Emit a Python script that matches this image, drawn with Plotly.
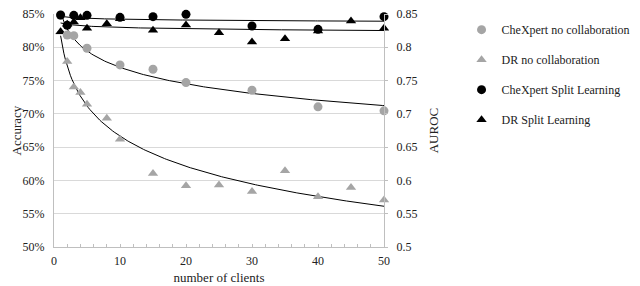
import numpy as np
import plotly.graph_objects as go

# Data
chex_nc_x = [1, 2, 3, 5, 10, 15, 20, 30, 40, 50]
chex_nc_y = [0.848, 0.8185, 0.8175, 0.7985, 0.7735, 0.767, 0.747, 0.7355, 0.7105, 0.7045]

dr_nc_x = [1, 2, 3, 4, 5, 8, 10, 15, 20, 25, 30, 35, 40, 45, 50]
dr_nc_y = [82.3, 77.85, 74.05, 73.2, 71.45, 69.35, 66.2, 61.05, 59.2, 59.3, 58.35, 61.45, 57.55, 58.95, 57.05]

chex_sl_x = [1, 2, 3, 5, 10, 15, 20, 30, 40, 50]
chex_sl_y = [0.8485, 0.833, 0.848, 0.848, 0.845, 0.846, 0.8495, 0.832, 0.827, 0.846]

dr_sl_x = [1, 2, 3, 4, 5, 8, 10, 15, 20, 25, 30, 35, 40, 45, 50]
dr_sl_y = [82.35, 83.45, 83.8, 84.45, 82.85, 83.55, 84.3, 82.55, 83.35, 82.2, 80.8, 81.3, 82.45, 83.95, 82.85]

x_ticks = [0, 10, 20, 30, 40, 50]
left_ticks = [50, 55, 60, 65, 70, 75, 80, 85]
right_ticks = [0.5, 0.55, 0.6, 0.65, 0.7, 0.75, 0.8, 0.85]

GRAY = "#a5a5a5"
FONT = "'Liberation Serif', 'Times New Roman', serif"


def log_fit(xs, ys):
    xs = np.asarray(xs, float)
    b, a = np.polyfit(np.log(xs), np.asarray(ys, float), 1)
    xf = np.linspace(1, 50, 200)
    return xf, a + b * np.log(xf)


fig = go.Figure()

# trend lines
for xs, ys, ax in [(chex_nc_x, chex_nc_y, "y2"), (dr_nc_x, dr_nc_y, "y"),
                   (chex_sl_x, chex_sl_y, "y2"), (dr_sl_x, dr_sl_y, "y")]:
    xf, yf = log_fit(xs, ys)
    fig.add_trace(go.Scatter(x=xf, y=yf, mode="lines", yaxis=ax,
                             line=dict(color="black", width=1),
                             showlegend=False, hoverinfo="skip"))

series = [
    ("CheXpert no collaboration", chex_nc_x, chex_nc_y, "y2", "circle", GRAY),
    ("DR no collaboration", dr_nc_x, dr_nc_y, "y", "triangle-up", GRAY),
    ("CheXpert Split Learning", chex_sl_x, chex_sl_y, "y2", "circle", "black"),
    ("DR Split Learning", dr_sl_x, dr_sl_y, "y", "triangle-up", "black"),
]
for i, (name, xs, ys, ax, sym, col) in enumerate(series):
    fig.add_trace(go.Scatter(x=xs, y=ys, mode="markers", name=name, yaxis=ax,
                             legendgroup=f"g{i}", cliponaxis=False,
                             marker=dict(symbol=sym, color=col, size=9,
                                         line=dict(width=0))))

fig.add_annotation(text="Accuracy", xref="paper", yref="paper",
                   x=-38 / 330, y=0.5, xanchor="center", yanchor="middle",
                   textangle=-90, showarrow=False,
                   font=dict(family=FONT, size=13, color="#222"))

fig.update_layout(
    width=632, height=278,
    margin=dict(l=46, r=256, t=6, b=39, autoexpand=False),
    paper_bgcolor="white", plot_bgcolor="white",
    font=dict(family=FONT, size=12, color="#222"),
    showlegend=True,
    legend=dict(x=1.235, y=0.995, xanchor="left", yanchor="top",
                font=dict(family=FONT, size=12, color="#222"),
                tracegroupgap=11, bgcolor="rgba(0,0,0,0)"),
    xaxis=dict(range=[0, 50], tickvals=x_ticks, showgrid=False, zeroline=False,
               automargin=False, ticklabelstandoff=3, ticklabeloverflow="allow",
               showline=True, linecolor="#bfbfbf", linewidth=1,
               ticks="inside", ticklen=3, tickcolor="#bfbfbf",
               minor=dict(dtick=2, ticks="inside", ticklen=3, tickcolor="#bfbfbf"),
               title=dict(text="number of clients", standoff=5,
                          font=dict(family=FONT, size=13))),
    yaxis=dict(range=[50, 85], tickvals=left_ticks,
               ticktext=[f"{v}%" for v in left_ticks], automargin=False,
               ticklabelstandoff=6, ticklabeloverflow="allow",
               showgrid=True, gridcolor="#d9d9d9", gridwidth=1, zeroline=False,
               showline=True, linecolor="#bfbfbf", linewidth=1, ticks=""),
    yaxis2=dict(range=[0.5, 0.85], tickvals=right_ticks, automargin=False,
                ticktext=[f"{v:g}" for v in right_ticks], ticklabelstandoff=6,
                ticklabeloverflow="allow",
                overlaying="y", side="right", showgrid=False, zeroline=False,
                showline=True, linecolor="#bfbfbf", linewidth=1,
                ticks="outside", ticklen=3, tickcolor="#bfbfbf",
                title=dict(text="AUROC", standoff=12,
                           font=dict(family=FONT, size=13))),
)

fig.write_html("out.html")
